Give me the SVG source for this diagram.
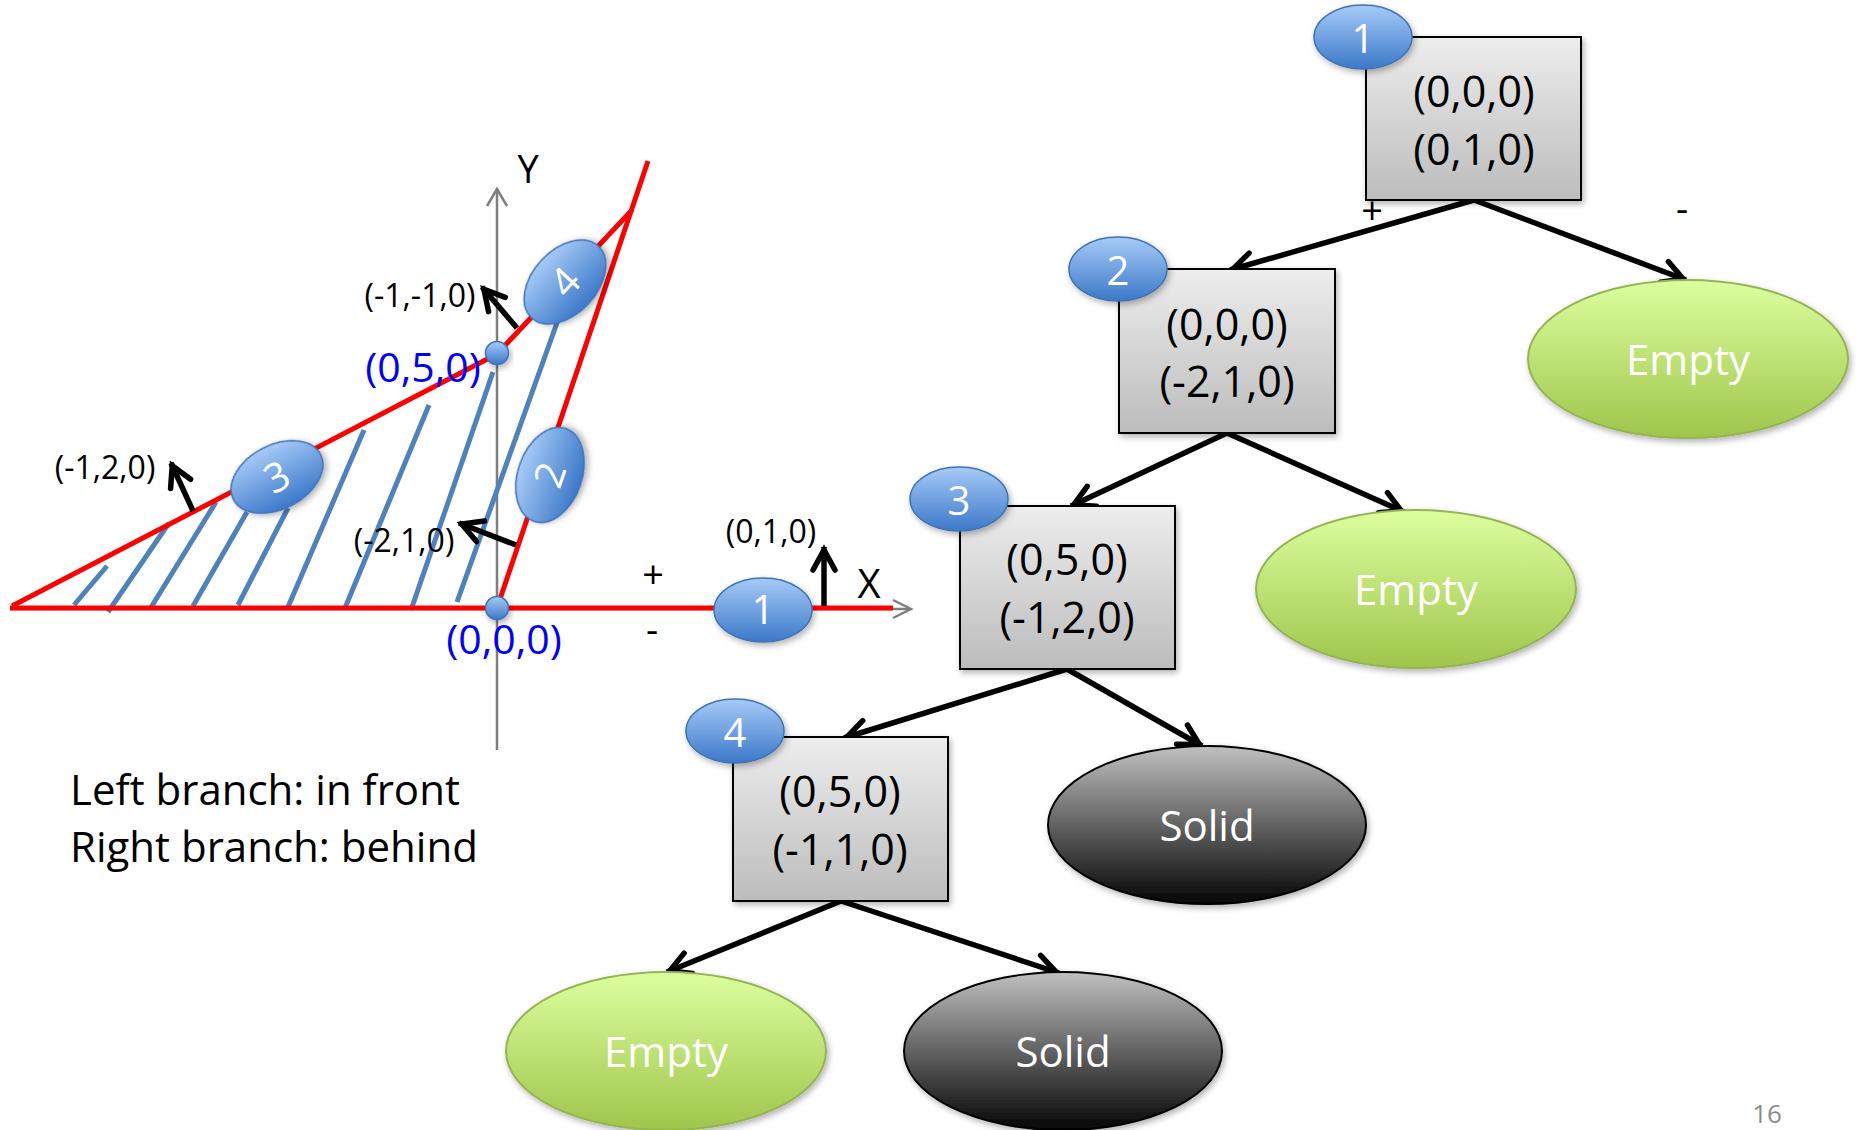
<svg xmlns="http://www.w3.org/2000/svg" width="1856" height="1130" viewBox="0 0 1856 1130">
  <defs>
    <style>
      text { font-family: "Open Sans", "Noto Sans", sans-serif; }
      .box { fill: url(#gBox); stroke: #000; stroke-width: 2; filter: url(#sh); }
      .badge { fill: url(#gBadge); stroke: #3f73b5; stroke-width: 1.5; filter: url(#sh); }
      .empty { fill: url(#gEmpty); stroke: #93b552; stroke-width: 2; filter: url(#sh); }
      .solid { fill: url(#gSolid); stroke: #000; stroke-width: 2; filter: url(#sh); }
      .btxt { font-size: 43px; fill: #000; text-anchor: middle; }
      .wtxt { font-size: 40px; fill: #fff; text-anchor: middle; }
      .leaf { font-size: 42px; fill: #fff; text-anchor: middle; }
      .lbl { font-size: 32px; fill: #000; text-anchor: middle; }
      .blue { font-size: 41px; fill: #0000ff; text-anchor: middle; }
      .sign { font-size: 38px; fill: #000; text-anchor: middle; }
      .edge { stroke: #000; stroke-width: 5.5; fill: none; marker-end: url(#arr); }
      .red { stroke: #ff0000; stroke-width: 5; fill: none; }
      .hatch { stroke: #4f81bd; stroke-width: 5; fill: none; }
      .axis { stroke: #7f7f7f; stroke-width: 2.5; fill: none; }
    </style>
    <linearGradient id="gBox" x1="0" y1="0" x2="0" y2="1">
      <stop offset="0" stop-color="#ededed"/>
      <stop offset="1" stop-color="#bcbcbc"/>
    </linearGradient>
    <linearGradient id="gBadge" x1="0" y1="0" x2="0" y2="1">
      <stop offset="0" stop-color="#a6cbf8"/>
      <stop offset="1" stop-color="#3c78c8"/>
    </linearGradient>
    <linearGradient id="gEmpty" x1="0" y1="0" x2="0" y2="1">
      <stop offset="0" stop-color="#ddfe9f"/>
      <stop offset="1" stop-color="#a0c54b"/>
    </linearGradient>
    <linearGradient id="gSolid" x1="0" y1="0" x2="0" y2="1">
      <stop offset="0" stop-color="#c0c0c0"/>
      <stop offset="1" stop-color="#050505"/>
    </linearGradient>
    <filter id="sh" x="-20%" y="-20%" width="140%" height="150%">
      <feDropShadow dx="2" dy="3" stdDeviation="3" flood-color="#000" flood-opacity="0.3"/>
    </filter>
    <marker id="arr" markerUnits="userSpaceOnUse" markerWidth="40" markerHeight="40" viewBox="-30 -20 40 40" refX="0" refY="0" orient="auto" overflow="visible">
      <path d="M-23,-11 L-3,0 L-23,11" fill="none" stroke="#000" stroke-width="5.5" stroke-linecap="round" stroke-linejoin="miter"/>
    </marker>
  </defs>

  <rect width="1856" height="1130" fill="#fff"/>

  <!-- Plane diagram: axes, solid region hatching, splitting planes -->
  <g id="plane-diagram">
    <g id="axes">
      <line class="axis" x1="10" y1="609" x2="910" y2="609"/>
      <polyline class="axis" points="893,600 911,609 893,618"/>
      <line class="axis" x1="497" y1="750" x2="497" y2="190"/>
      <polyline class="axis" points="487,206 497,189 507,206"/>
      <text x="528" y="183" class="sign">Y</text>
      <text x="869" y="598" class="sign" style="font-size:40px">X</text>
    </g>
    <g id="hatching">
      <line class="hatch" x1="74" y1="605" x2="107" y2="566"/>
      <line class="hatch" x1="108" y1="612" x2="169" y2="523"/>
      <line class="hatch" x1="150" y1="609" x2="216" y2="502"/>
      <line class="hatch" x1="193" y1="606" x2="247" y2="512"/>
      <line class="hatch" x1="238" y1="605" x2="288" y2="508"/>
      <line class="hatch" x1="288" y1="607" x2="364" y2="430"/>
      <line class="hatch" x1="345" y1="608" x2="429" y2="405"/>
      <line class="hatch" x1="411" y1="610" x2="493" y2="372"/>
      <line class="hatch" x1="457" y1="602" x2="558" y2="320"/>
    </g>
    <g id="planes">
      <line class="red" x1="10" y1="608" x2="893" y2="608"/>
      <line class="red" x1="12" y1="606" x2="497" y2="354"/>
      <line class="red" x1="497" y1="354" x2="632" y2="210"/>
      <line class="red" x1="497" y1="608" x2="648" y2="161"/>
    </g>
    <g id="points">
      <circle cx="497" cy="353" r="11.5" class="badge"/>
      <circle cx="497" cy="608" r="11.5" class="badge"/>
      <text x="423" y="382" class="blue">(0,5,0)</text>
      <text x="504" y="654" class="blue">(0,0,0)</text>
    </g>
    <g id="normals">
      <line class="edge" x1="824" y1="606" x2="824" y2="547"/>
      <line class="edge" x1="517" y1="328" x2="482" y2="287"/>
      <line class="edge" x1="193" y1="511" x2="171" y2="463"/>
      <line class="edge" x1="516" y1="545" x2="459" y2="523"/>
      <text x="771" y="543" class="lbl">(0,1,0)</text>
      <text x="420" y="307" class="lbl">(-1,-1,0)</text>
      <text x="105" y="479" class="lbl">(-1,2,0)</text>
      <text x="404" y="552" class="lbl">(-2,1,0)</text>
      <text x="653" y="588" class="sign">+</text>
      <text x="652" y="643" class="sign">-</text>
    </g>
    <g id="plane-1" transform="translate(763,610)">
      <ellipse rx="49" ry="32" class="badge"/>
      <text y="14" class="wtxt">1</text>
    </g>
    <g id="plane-2" transform="translate(550,475) rotate(-71)">
      <ellipse rx="49" ry="32" class="badge"/>
      <text y="14" class="wtxt">2</text>
    </g>
    <g id="plane-3" transform="translate(277,477) rotate(-27.5)">
      <ellipse rx="49" ry="32" class="badge"/>
      <text y="14" class="wtxt">3</text>
    </g>
    <g id="plane-4" transform="translate(565,282) rotate(-47)">
      <ellipse rx="49" ry="32" class="badge"/>
      <text y="14" class="wtxt">4</text>
    </g>
  </g>

  <g id="legend">
    <text x="70" y="805" style="font-size:42px" fill="#000">Left branch: in front</text>
    <text x="70" y="862" style="font-size:42px" fill="#000">Right branch: behind</text>
  </g>

  <!-- BSP tree connectors -->
  <g id="connectors">
    <line class="edge" x1="1474" y1="200" x2="1230" y2="270"/>
    <line class="edge" x1="1474" y1="200" x2="1686" y2="280"/>
    <line class="edge" x1="1227" y1="433" x2="1071" y2="506"/>
    <line class="edge" x1="1227" y1="433" x2="1404" y2="512"/>
    <line class="edge" x1="1067" y1="669" x2="844" y2="738"/>
    <line class="edge" x1="1067" y1="669" x2="1202" y2="746"/>
    <line class="edge" x1="841" y1="901" x2="667" y2="972"/>
    <line class="edge" x1="841" y1="901" x2="1059" y2="973"/>
    <text x="1372" y="224" class="sign">+</text>
    <text x="1682" y="222" class="sign">-</text>
  </g>

  <!-- BSP tree nodes -->
  <g id="node-1">
    <rect x="1366" y="37" width="215" height="163" class="box"/>
    <text x="1474" y="107" class="btxt">(0,0,0)</text>
    <text x="1474" y="165" class="btxt">(0,1,0)</text>
    <ellipse cx="1363" cy="37" rx="49" ry="32" class="badge"/>
    <text x="1363" y="53" class="wtxt">1</text>
  </g>
  <g id="node-2">
    <rect x="1119" y="269" width="216" height="164" class="box"/>
    <text x="1227" y="340" class="btxt">(0,0,0)</text>
    <text x="1227" y="397" class="btxt">(-2,1,0)</text>
    <ellipse cx="1118" cy="269" rx="49" ry="32" class="badge"/>
    <text x="1118" y="285" class="wtxt">2</text>
  </g>
  <g id="node-3">
    <rect x="960" y="506" width="215" height="163" class="box"/>
    <text x="1067" y="575" class="btxt">(0,5,0)</text>
    <text x="1067" y="633" class="btxt">(-1,2,0)</text>
    <ellipse cx="959" cy="499" rx="49" ry="32" class="badge"/>
    <text x="959" y="515" class="wtxt">3</text>
  </g>
  <g id="node-4">
    <rect x="733" y="737" width="215" height="164" class="box"/>
    <text x="840" y="807" class="btxt">(0,5,0)</text>
    <text x="840" y="865" class="btxt">(-1,1,0)</text>
    <ellipse cx="735" cy="731" rx="49" ry="32" class="badge"/>
    <text x="735" y="747" class="wtxt">4</text>
  </g>
  <g id="leaf-empty-1">
    <ellipse cx="1688" cy="359" rx="160" ry="79" class="empty"/>
    <text x="1688" y="375" class="leaf">Empty</text>
  </g>
  <g id="leaf-empty-2">
    <ellipse cx="1416" cy="589" rx="160" ry="79" class="empty"/>
    <text x="1416" y="605" class="leaf">Empty</text>
  </g>
  <g id="leaf-solid-1">
    <ellipse cx="1207" cy="825" rx="159" ry="79" class="solid"/>
    <text x="1207" y="841" class="leaf">Solid</text>
  </g>
  <g id="leaf-empty-3">
    <ellipse cx="666" cy="1051" rx="160" ry="79" class="empty"/>
    <text x="666" y="1067" class="leaf">Empty</text>
  </g>
  <g id="leaf-solid-2">
    <ellipse cx="1063" cy="1051" rx="159" ry="79" class="solid"/>
    <text x="1063" y="1067" class="leaf">Solid</text>
  </g>

  <text x="1767" y="1123" style="font-size:26px" fill="#8c8c8c" text-anchor="middle">16</text>
</svg>
